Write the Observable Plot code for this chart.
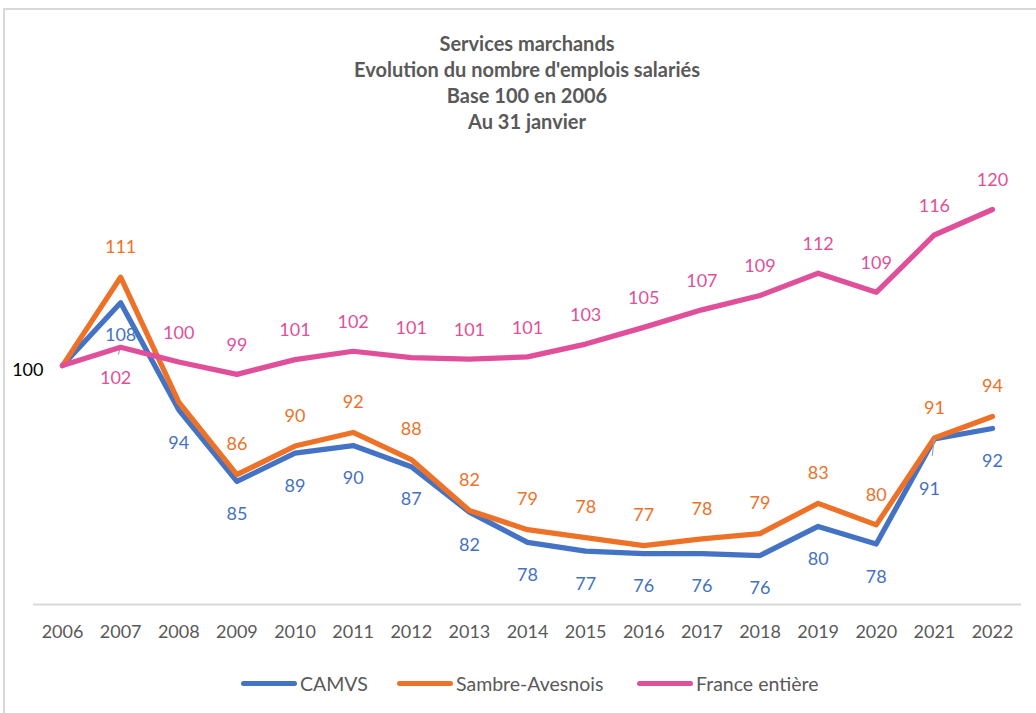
<!DOCTYPE html>
<html><head><meta charset="utf-8">
<script src="https://cdn.jsdelivr.net/npm/d3@7"></script>
<script src="https://cdn.jsdelivr.net/npm/@observablehq/plot@0.6"></script>
<style>
body{margin:0;background:#fff;font-family:Lato,sans-serif;}
#wrap{position:relative;width:1036px;height:713px;overflow:hidden;background:#fff;}
#frame{position:absolute;left:3px;top:8px;width:1100px;height:800px;border-left:2px solid #d9d9d9;border-top:2px solid #d9d9d9;}
#title{position:absolute;left:18px;top:30px;width:1018px;text-align:center;font-weight:bold;font-size:20px;line-height:26px;color:#595959;}
#chart{position:absolute;left:0;top:140px;}
.leg{position:absolute;top:672px;display:flex;align-items:center;height:22px;font-size:19.5px;color:#595959;white-space:nowrap;}
.sw{width:56px;height:5px;border-radius:3px;margin-right:3px;}
</style>
</head><body>
<div id="wrap">
  <div id="frame"></div>
  <div id="title">Services marchands<br>Evolution du nombre d'emplois salariés<br>Base 100 en 2006<br>Au 31 janvier</div>
  <div id="chart"></div>
  <div id="legend"></div>
</div>
<script>
const years = [2006,2007,2008,2009,2010,2011,2012,2013,2014,2015,2016,2017,2018,2019,2020,2021,2022];
const seriesNames = ["CAMVS", "Sambre-Avesnois", "France entière"];
const camvs  = [100, 107.9, 94.45, 85.45, 89.0, 89.96, 87.3, 81.6, 77.8, 76.7, 76.4, 76.4, 76.15, 79.8, 77.6, 90.8, 92.1];
const sambre = [100, 111.1, 95.4, 86.3, 89.9, 91.6, 88.2, 81.8, 79.4, 78.4, 77.4, 78.25, 78.9, 82.7, 80.0, 90.9, 93.6];
const france = [100, 102.3, 100.45, 98.9, 100.75, 101.8, 101.0, 100.8, 101.1, 102.7, 104.8, 107.0, 108.8, 111.6, 109.2, 116.4, 119.6];
const colors = ["#4472C4", "#ED7228", "#E0509A"];

const seriesValues = [camvs, sambre, france];
const rows = [];
seriesNames.forEach((s, i) => years.forEach((yr, j) => rows.push({series: s, year: yr, value: seriesValues[i][j]})));

// label placement (offsets in px)
const labelDy = {"CAMVS": 33, "Sambre-Avesnois": -30, "France entière": -29};
const labelExceptions = [
  {series: "France entière", year: 2007, dx: -5, dy: 31},
  {series: "CAMVS", year: 2021, dx: -5, dy: 50}
];
const hiddenLabels = [{series: "Sambre-Avesnois", year: 2008}];

const isExc = d => labelExceptions.some(e => e.series === d.series && e.year === d.year);
const isHidden = d => d.year === 2006 || hiddenLabels.some(e => e.series === d.series && e.year === d.year);
const fmt = d => String(Math.round(d.value));

const labelMarks = [];
seriesNames.forEach(s => {
  labelMarks.push(Plot.text(rows.filter(d => d.series === s && !isHidden(d) && !isExc(d)), {
    x: "year", y: "value", text: fmt, fill: "series", dy: labelDy[s], fontSize: 18
  }));
});
labelExceptions.forEach(e => {
  labelMarks.push(Plot.text(rows.filter(d => d.series === e.series && d.year === e.year), {
    x: "year", y: "value", text: fmt, fill: "series", dx: e.dx, dy: e.dy, fontSize: 18
  }));
});

const leaderShape = {draw(context, l) { context.moveTo(0, 0); context.lineTo(0, -l); }};
const leaders = [
  {series: "France entière", year: 2007, length: 13.5, rotate: 198},
  {series: "CAMVS", year: 2021, length: 31, rotate: 187.5}
].map(e => ({...e, value: rows.find(d => d.series === e.series && d.year === e.year).value}));

const startRow = rows.filter(d => d.series === "France entière" && d.year === 2006);

const chart = Plot.plot({
  width: 1036, height: 520,
  marginTop: 26, marginBottom: 56, marginLeft: 62, marginRight: 44,
  x: {domain: [2006, 2022], axis: null},
  y: {domain: [70, 125], axis: null},
  color: {domain: seriesNames, range: colors},
  style: {fontFamily: "Lato, sans-serif", fontSize: "18px", background: "transparent", overflow: "visible"},
  marks: [
    Plot.ruleY([70], {x1: 2005.5, x2: 2022.5, stroke: "#d9d9d9", strokeWidth: 2}),
    Plot.axisX({ticks: years, tickFormat: d => String(d), tickSize: 0, tickPadding: 21, fontSize: 18, fill: "#595959", label: null}),
    Plot.vector(leaders.filter(d => d.series === "France entière"), {x: "year", y: "value", length: "length", rotate: "rotate", anchor: "start", stroke: "#a6a6a6", strokeWidth: 1.2, shape: leaderShape}),
    Plot.line(rows, {x: "year", y: "value", z: "series", stroke: "series", strokeWidth: 5.25, strokeLinejoin: "round", strokeLinecap: "round"}),
    Plot.vector(leaders.filter(d => d.series === "CAMVS"), {x: "year", y: "value", length: "length", rotate: "rotate", anchor: "start", stroke: "#a6a6a6", strokeWidth: 1.2, shape: leaderShape}),
    ...labelMarks,
    Plot.text(startRow, {x: "year", y: "value", text: fmt, fill: "#000", textAnchor: "end", dx: -19, dy: 5, fontSize: 18})
  ]
});
document.getElementById("chart").appendChild(chart);

// legend
const legendLeft = [241, 397, 637];
const legend = document.getElementById("legend");
seriesNames.forEach((s, i) => {
  const item = document.createElement("div");
  item.className = "leg";
  item.style.left = legendLeft[i] + "px";
  item.innerHTML = `<div class="sw" style="background:${colors[i]}"></div><span>${s}</span>`;
  legend.appendChild(item);
});
</script>
</body></html>
